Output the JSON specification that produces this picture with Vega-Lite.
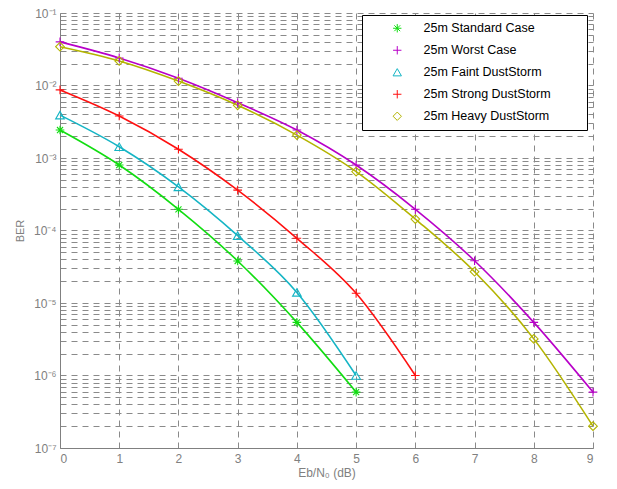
{
  "$schema": "https://vega.github.io/schema/vega-lite/v6.json",
  "width": 533,
  "height": 435,
  "autosize": {"type": "none"},
  "padding": {"left": 60, "top": 13, "right": 24, "bottom": 41},
  "background": "white",
  "config": {
    "view": {"stroke": null},
    "font": "Liberation Sans"
  },
  "data": {
    "values": [
      {"series": "25m Standard Case", "snr": 0, "ber": 0.00243},
      {"series": "25m Standard Case", "snr": 1, "ber": 0.0008},
      {"series": "25m Standard Case", "snr": 2, "ber": 0.000196},
      {"series": "25m Standard Case", "snr": 3, "ber": 0.000038},
      {"series": "25m Standard Case", "snr": 4, "ber": 0.0000054},
      {"series": "25m Standard Case", "snr": 5, "ber": 0.00000059},
      {"series": "25m Worst Case", "snr": 0, "ber": 0.04},
      {"series": "25m Worst Case", "snr": 1, "ber": 0.024},
      {"series": "25m Worst Case", "snr": 2, "ber": 0.0126},
      {"series": "25m Worst Case", "snr": 3, "ber": 0.0058},
      {"series": "25m Worst Case", "snr": 4, "ber": 0.00243},
      {"series": "25m Worst Case", "snr": 5, "ber": 0.0008},
      {"series": "25m Worst Case", "snr": 6, "ber": 0.000196},
      {"series": "25m Worst Case", "snr": 7, "ber": 0.0000383},
      {"series": "25m Worst Case", "snr": 8, "ber": 0.0000054},
      {"series": "25m Worst Case", "snr": 9, "ber": 0.00000059},
      {"series": "25m Faint DustStorm", "snr": 0, "ber": 0.0039},
      {"series": "25m Faint DustStorm", "snr": 1, "ber": 0.00143},
      {"series": "25m Faint DustStorm", "snr": 2, "ber": 0.0004},
      {"series": "25m Faint DustStorm", "snr": 3, "ber": 0.000085},
      {"series": "25m Faint DustStorm", "snr": 4, "ber": 0.000014},
      {"series": "25m Faint DustStorm", "snr": 5, "ber": 0.000001},
      {"series": "25m Strong DustStorm", "snr": 0, "ber": 0.0087},
      {"series": "25m Strong DustStorm", "snr": 1, "ber": 0.0038},
      {"series": "25m Strong DustStorm", "snr": 2, "ber": 0.00132},
      {"series": "25m Strong DustStorm", "snr": 3, "ber": 0.00036},
      {"series": "25m Strong DustStorm", "snr": 4, "ber": 0.000078},
      {"series": "25m Strong DustStorm", "snr": 5, "ber": 0.0000136},
      {"series": "25m Strong DustStorm", "snr": 6, "ber": 0.000001},
      {"series": "25m Heavy DustStorm", "snr": 0, "ber": 0.0343},
      {"series": "25m Heavy DustStorm", "snr": 1, "ber": 0.0218},
      {"series": "25m Heavy DustStorm", "snr": 2, "ber": 0.0115},
      {"series": "25m Heavy DustStorm", "snr": 3, "ber": 0.00533},
      {"series": "25m Heavy DustStorm", "snr": 4, "ber": 0.00207},
      {"series": "25m Heavy DustStorm", "snr": 5, "ber": 0.00065},
      {"series": "25m Heavy DustStorm", "snr": 6, "ber": 0.000144},
      {"series": "25m Heavy DustStorm", "snr": 7, "ber": 0.000027},
      {"series": "25m Heavy DustStorm", "snr": 8, "ber": 0.0000032},
      {"series": "25m Heavy DustStorm", "snr": 9, "ber": 0.0000002}
    ]
  },
  "encoding": {
    "x": {
      "field": "snr",
      "type": "quantitative",
      "scale": {"domain": [0, 9], "nice": false, "zero": false},
      "axis": {
        "values": [0, 1, 2, 3, 4, 5, 6, 7, 8, 9],
        "grid": true,
        "gridDash": [6, 5],
        "gridColor": "#8a8a8a",
        "gridOpacity": 1,
        "ticks": false,
        "domainColor": "#808080",
        "labelColor": "#808080",
        "labelFontSize": 12,
        "labelPadding": 5,
        "title": "Eb/N₀ (dB)",
        "titleColor": "#808080",
        "titleFontSize": 12,
        "titleFontWeight": "normal",
        "titlePadding": 3
      }
    },
    "y": {
      "field": "ber",
      "type": "quantitative",
      "scale": {"type": "log", "domain": [0.0000001, 0.1], "nice": false},
      "axis": {
        "values": [0.0000001, 0.0000002, 0.0000003, 0.0000004, 0.0000005, 0.0000006, 0.0000007, 0.0000008, 0.0000009,
                   0.000001, 0.000002, 0.000003, 0.000004, 0.000005, 0.000006, 0.000007, 0.000008, 0.000009,
                   0.00001, 0.00002, 0.00003, 0.00004, 0.00005, 0.00006, 0.00007, 0.00008, 0.00009,
                   0.0001, 0.0002, 0.0003, 0.0004, 0.0005, 0.0006, 0.0007, 0.0008, 0.0009,
                   0.001, 0.002, 0.003, 0.004, 0.005, 0.006, 0.007, 0.008, 0.009,
                   0.01, 0.02, 0.03, 0.04, 0.05, 0.06, 0.07, 0.08, 0.09, 0.1],
        "labelExpr": "datum.value == 0.1 ? '10⁻¹' : datum.value == 0.01 ? '10⁻²' : datum.value == 0.001 ? '10⁻³' : datum.value == 0.0001 ? '10⁻⁴' : datum.value == 0.00001 ? '10⁻⁵' : datum.value == 0.000001 ? '10⁻⁶' : datum.value == 0.0000001 ? '10⁻⁷' : ''",
        "grid": true,
        "gridDash": [6, 5],
        "gridColor": "#8a8a8a",
        "gridOpacity": 1,
        "ticks": false,
        "domainColor": "#808080",
        "labelColor": "#808080",
        "labelFontSize": 12,
        "labelPadding": 4,
        "labelOverlap": false,
        "title": "BER",
        "titleColor": "#808080",
        "titleFontSize": 11,
        "titleFontWeight": "normal",
        "titlePadding": 8
      }
    },
    "color": {
      "field": "series",
      "type": "nominal",
      "scale": {
        "domain": ["25m Standard Case", "25m Worst Case", "25m Faint DustStorm", "25m Strong DustStorm", "25m Heavy DustStorm"],
        "range": ["#11dd11", "#b800c8", "#15b5c5", "#ff1010", "#b4b400"]
      },
      "legend": {
        "title": "\u00a0",
        "titleOrient": "right",
        "titlePadding": 29,
        "titleFontSize": 11,
        "orient": "none",
        "legendX": 302,
        "legendY": 2,
        "fillColor": "white",
        "strokeColor": "black",
        "padding": 7,
        "symbolOffset": 22,
        "labelOffset": 20,
        "rowPadding": 9,
        "labelFontSize": 12.5,
        "labelColor": "black",
        "labelLimit": 300,
        "symbolSize": 70,
        "symbolStrokeWidth": 1
      }
    }
  },
  "layer": [
    {
      "mark": {"type": "line", "strokeWidth": 1.6, "interpolate": "monotone"}
    },
    {
      "mark": {"type": "point", "filled": false, "strokeWidth": 1.1, "size": 75, "opacity": 1},
      "encoding": {
        "shape": {
          "field": "series",
          "type": "nominal",
          "scale": {
            "domain": ["25m Standard Case", "25m Worst Case", "25m Faint DustStorm", "25m Strong DustStorm", "25m Heavy DustStorm"],
            "range": ["M-1,0H1M0,-1V1M-0.7,-0.7L0.7,0.7M-0.7,0.7L0.7,-0.7", "M-1,0H1M0,-1V1", "triangle-up", "M-1,0H1M0,-1V1", "diamond"]
          },
          "legend": {
            "title": "\u00a0",
            "titleOrient": "right",
            "titlePadding": 29,
            "titleFontSize": 11,
            "orient": "none",
            "legendX": 302,
            "legendY": 2,
            "fillColor": "white",
            "strokeColor": "black",
            "padding": 7,
            "symbolOffset": 22,
            "labelOffset": 20,
            "rowPadding": 9,
            "labelFontSize": 12.5,
            "labelColor": "black",
            "labelLimit": 300,
            "symbolSize": 70,
            "symbolStrokeWidth": 1
          }
        }
      }
    }
  ]
}
